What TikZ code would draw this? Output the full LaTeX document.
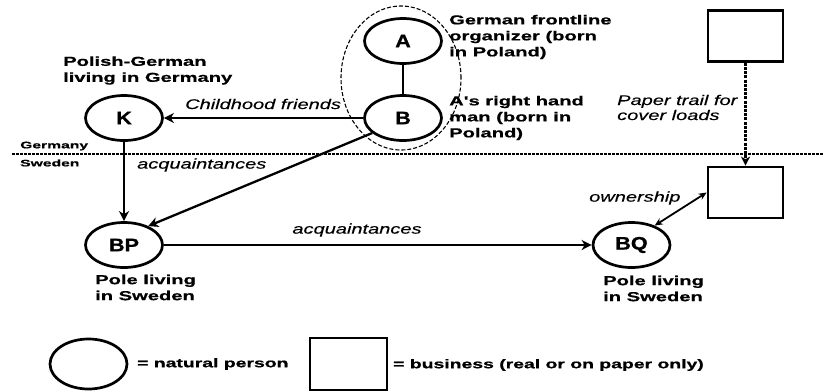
\documentclass[tikz,border=0pt]{standalone}
\usepackage{fontspec}
\setmainfont{Liberation Sans}
\newfontfamily\lblfont[FakeStretch=1.55,FakeBold=0.8]{Liberation Sans}
\newfontfamily\itlfont[FakeStretch=1.43,FakeBold=0.3]{Liberation Sans}
\newfontfamily\smlfont[FakeStretch=1.65,FakeBold=0.8]{Liberation Sans}
\newfontfamily\ndfont[FakeStretch=1.2,FakeBold=0.8]{Liberation Sans}
\usetikzlibrary{shapes.geometric,arrows.meta}
\tikzset{
  person/.style={ellipse, draw, line width=2.7pt, minimum width=77pt, minimum height=45pt, inner sep=0pt, font=\ndfont\bfseries\fontsize{18}{20}\selectfont},
  biz/.style={rectangle, draw, line width=2.7pt, minimum width=75pt, minimum height=51pt, inner sep=0pt},
  lbl/.style={anchor=west, align=left, inner sep=0pt, font=\lblfont\bfseries\fontsize{13}{16}\selectfont},
  itl/.style={inner sep=0pt, align=left, font=\itlfont\itshape\fontsize{14}{15}\selectfont},
  sml/.style={anchor=west, inner sep=0pt, font=\smlfont\bfseries\fontsize{9.5}{11}\selectfont},
  conn/.style={line width=2.3pt, -{Stealth[length=10pt,width=10pt,inset=3pt]}},
  group/.style={ellipse, draw, dash pattern=on 4pt off 2pt, line width=1.1pt, minimum width=120pt, minimum height=144pt, inner sep=0pt},
}
\begin{document}
\begin{tikzpicture}[x=1pt,y=-1pt]
\useasboundingbox (0,0) rectangle (824,391);
% group
\node[group] (G) at (401,78) {};
% persons
\node[person] (A) at (403,41) {A};
\node[person] (B) at (403,118) {B};
\node[person] (K) at (124,118) {K};
\node[person] (BP) at (124,245) {BP};
\node[person] (BQ) at (631.5,245) {BQ};
% businesses
\node[biz] (X1) at (745.5,36) {};
\node[biz] (X2) at (745.5,192.5) {};
% divider
\coordinate (dl) at (12,154);
\coordinate (dr) at (824,154);
\draw[line width=1.1pt, dash pattern=on 3pt off 1pt] (dl) -- (dr);
\node[sml] (lg) at (20,146) {Germany};
\node[sml] (ls) at (20,163) {Sweden};
% labels
\node[lbl] (tK) at (63,70.5) {Polish-German\\living in Germany};
\node[lbl] (tA) at (449,37) {German frontline\\organizer (born\\in Poland)};
\node[lbl] (tB) at (449,118) {A's right hand\\man (born in\\Poland)};
\node[lbl] (tBP) at (95,287.5) {Pole living\\in Sweden};
\node[lbl] (tBQ) at (603,288.5) {Pole living\\in Sweden};
\node[itl, anchor=west] (cf) at (185,104) {Childhood friends};
\node[itl, anchor=west] (aq1) at (137,165) {acquaintances};
\node[itl] (aq2) at (357,230) {acquaintances};
\node[itl, anchor=west] (pt) at (617,107.5) {Paper trail for\\cover loads};
\node[itl, anchor=west] (own) at (589,198) {ownership};
% connectors
\draw[line width=2.7pt] (A) -- (B);
\draw[conn] (B) -- (K);
\draw[conn] (K) -- (BP);
\draw[conn] (B.206) -- (BP.38);
\draw[conn, line width=2pt] (BP) -- (BQ);
\draw[line width=1.8pt, {Stealth[length=8pt,width=7pt]}-{Stealth[length=8pt,width=7pt]}] (BQ.40) -- (X2.west);
\draw[line width=2.4pt, dash pattern=on 3pt off 1.2pt, -{Stealth[length=9pt,width=9pt,inset=2.5pt]}] (X1) -- (X2);
% legend
\node[person, minimum height=50pt] (LE) at (88.5,364) {};
\node[biz, minimum width=77pt, minimum height=52pt] (LB) at (348.5,364) {};
\node[lbl, font=\lblfont\bfseries\fontsize{12.5}{15}\selectfont] (le) at (137,364) {= natural person};
\node[lbl, font=\lblfont\bfseries\fontsize{12.5}{15}\selectfont] (lb) at (393,365) {= business (real or on paper only)};
\end{tikzpicture}
\end{document}
